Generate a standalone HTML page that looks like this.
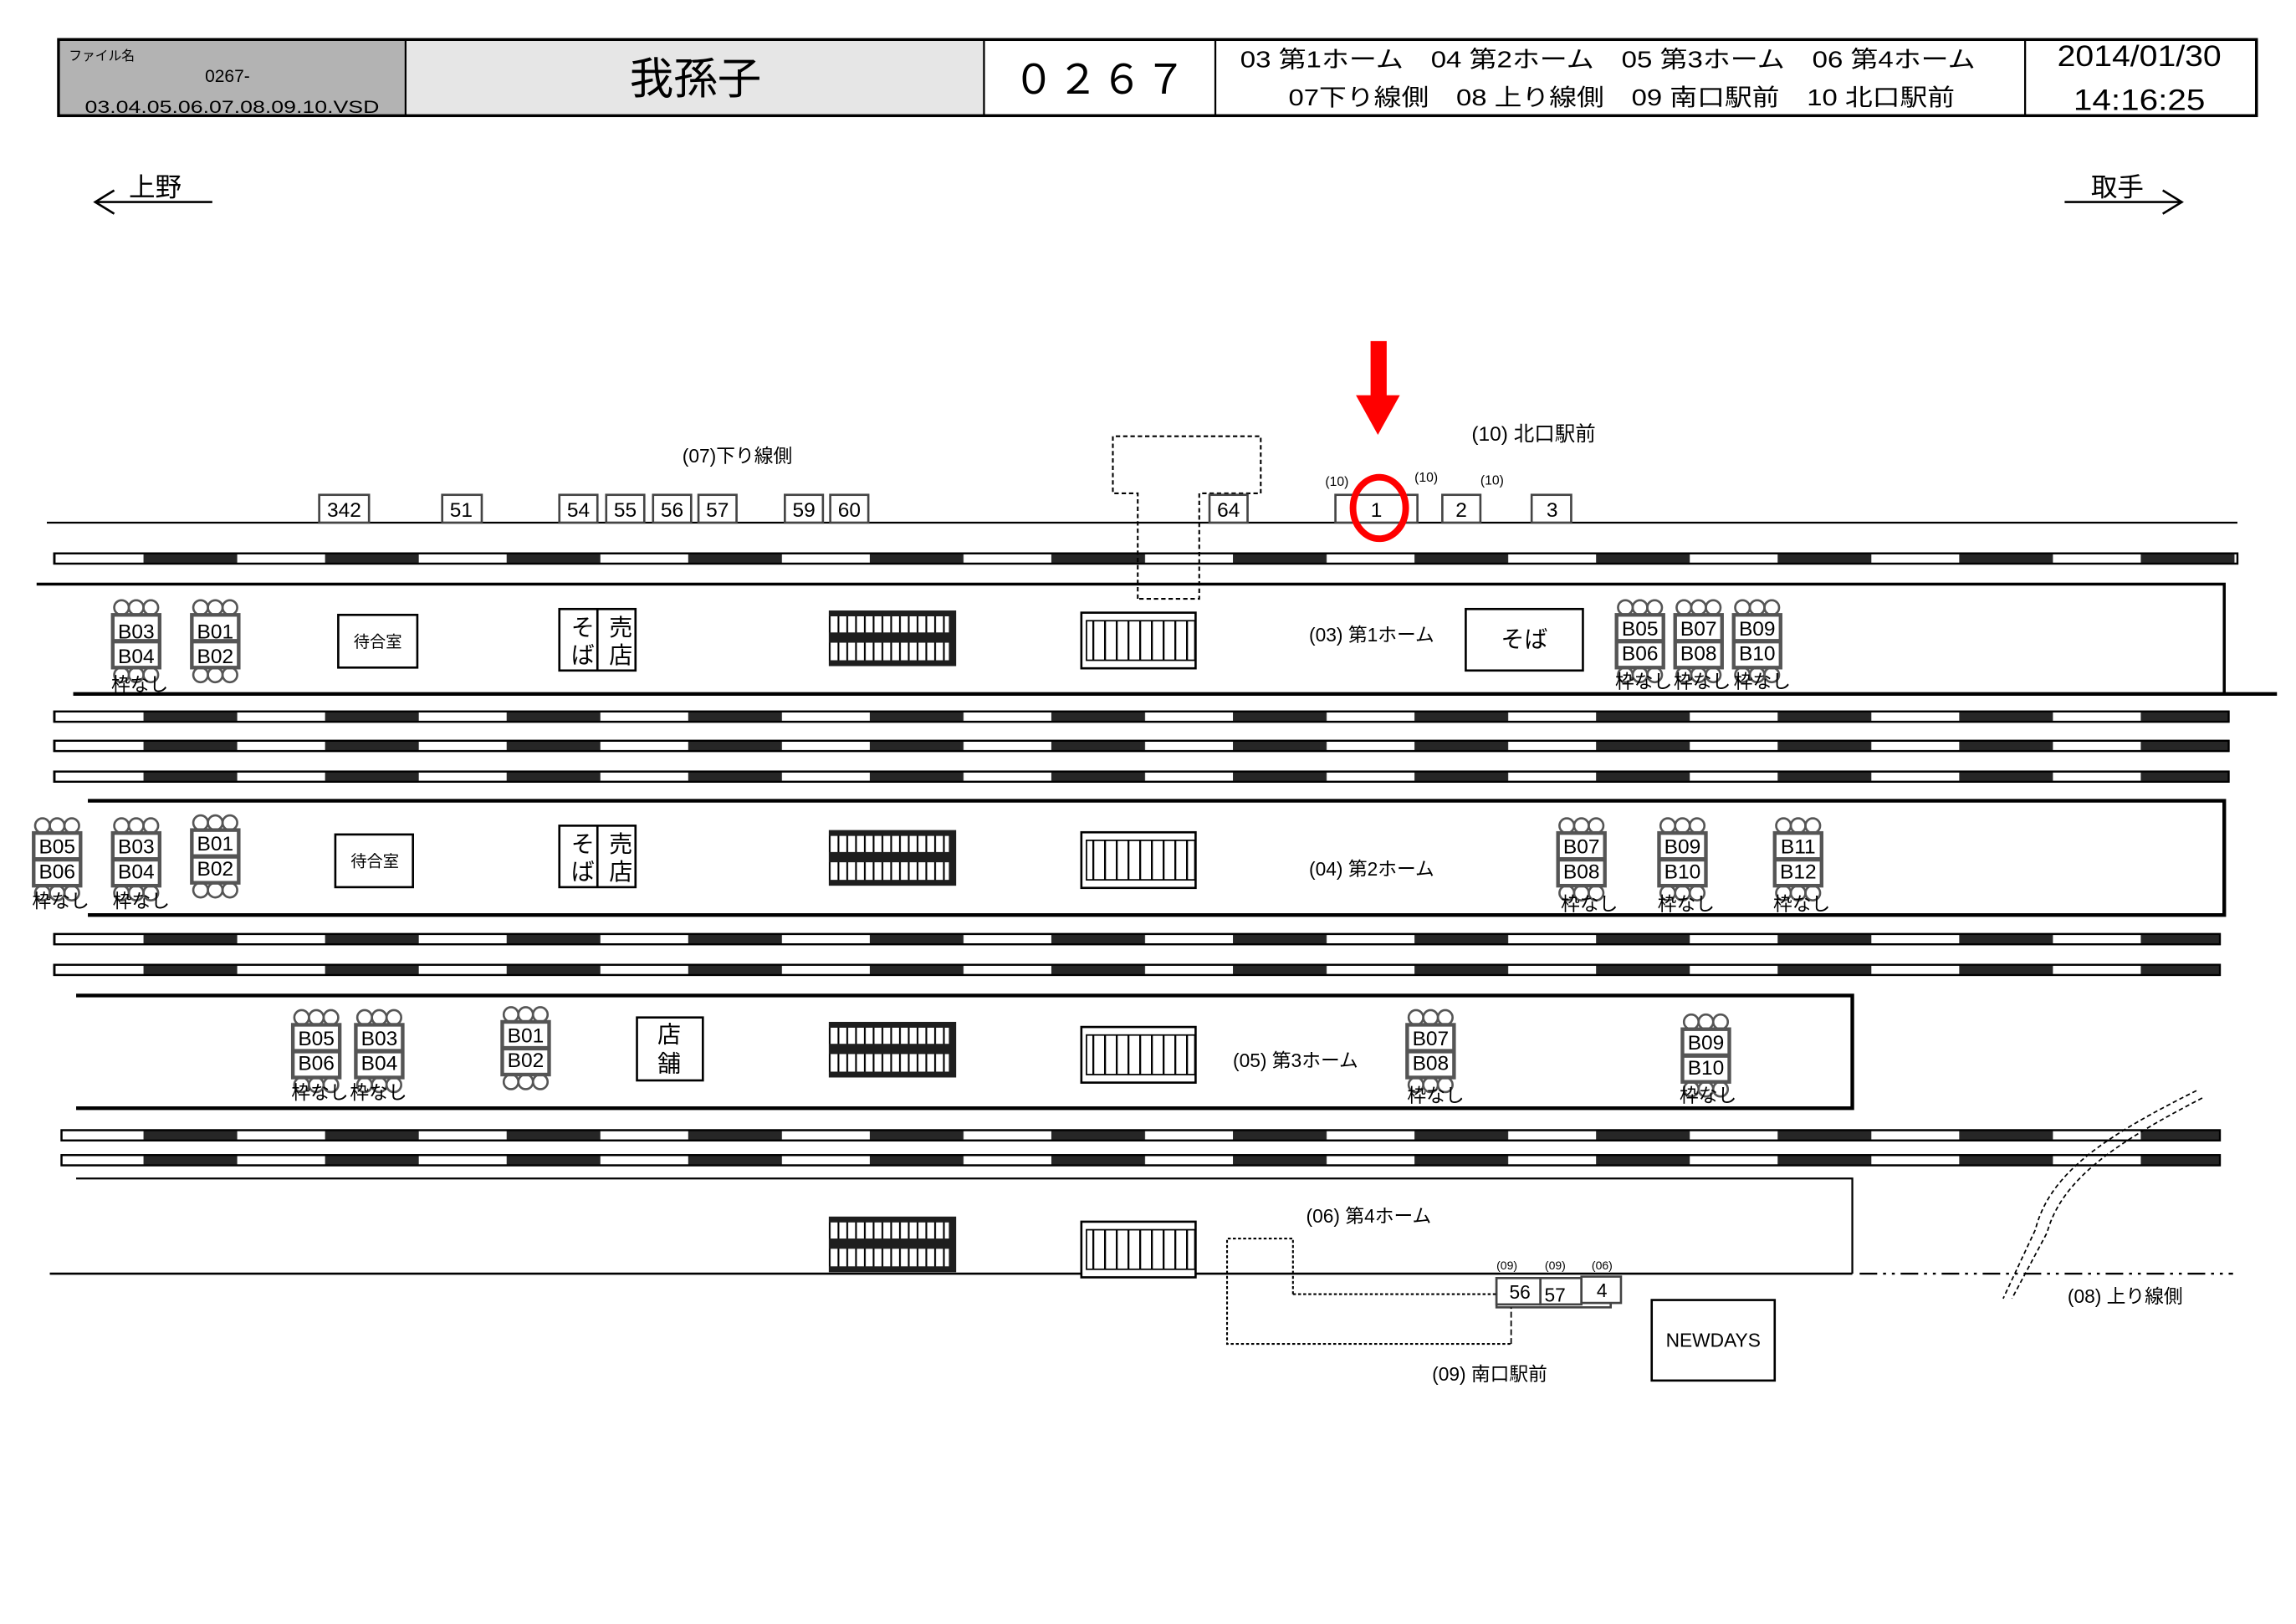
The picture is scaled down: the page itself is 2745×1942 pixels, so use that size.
<!DOCTYPE html>
<html><head><meta charset="utf-8"><style>
html,body{margin:0;padding:0;background:#fff}
svg{display:block}
text{font-family:"Liberation Sans","Noto Sans CJK JP",sans-serif;fill:#000}
</style></head><body>
<svg width="2745" height="1942" viewBox="0 0 1568 1109.3" preserveAspectRatio="none" xmlns="http://www.w3.org/2000/svg">
<defs>
<pattern id="trk" patternUnits="userSpaceOnUse" x="98" y="0" width="124" height="20">
<rect x="0" y="0" width="64" height="20" fill="#262626"/>
</pattern>
<pattern id="vl" patternUnits="userSpaceOnUse" width="6" height="10">
<rect width="6" height="10" fill="#fff"/><rect x="0" width="1.2" height="10" fill="#000"/>
</pattern>
<pattern id="vl2" patternUnits="userSpaceOnUse" width="8" height="10">
<rect width="8" height="10" fill="#fff"/><rect x="0" width="1.3" height="10" fill="#000"/>
</pattern>
<g id="stair">
<rect x="0" y="0" width="87" height="38" fill="#1e1e1e"/>
<rect x="0" y="4" width="82" height="11" fill="url(#vl)"/>
<rect x="0" y="22" width="82" height="12" fill="url(#vl)"/>
</g>
<g id="esc">
<rect x="0.5" y="0.5" width="78" height="38" fill="#fff" stroke="#000" stroke-width="1.5"/>
<rect x="4" y="6" width="74" height="27" fill="url(#vl2)" stroke="#000" stroke-width="1"/>
</g>
<g id="bus" fill="none" stroke="#555" stroke-width="1.5">
<circle cx="6" cy="0" r="5"/><circle cx="16" cy="0" r="5"/><circle cx="26" cy="0" r="5"/>
<rect x="0" y="5" width="32" height="36" fill="#fff" stroke="#555" stroke-width="2.5"/>
<line x1="0" y1="23" x2="32" y2="23" stroke-width="3"/>
<circle cx="6" cy="46" r="5"/><circle cx="16" cy="46" r="5"/><circle cx="26" cy="46" r="5"/>
</g>
</defs>

<!-- header -->
<rect x="40" y="27" width="1501" height="52" fill="#fff" stroke="#000" stroke-width="2"/>
<rect x="41" y="28" width="236" height="50" fill="#b3b3b3"/>
<rect x="278" y="28" width="394" height="50" fill="#e6e6e6"/>
<g stroke="#000" stroke-width="1.3">
<line x1="277" y1="27" x2="277" y2="79"/><line x1="672" y1="27" x2="672" y2="79"/>
<line x1="830" y1="27" x2="830" y2="79"/><line x1="1383" y1="27" x2="1383" y2="79"/>
</g>
<text x="47" y="41" font-size="9">ファイル名</text>
<text x="140" y="56" font-size="12">0267-</text>
<text x="58" y="77" font-size="12" textLength="201" lengthAdjust="spacingAndGlyphs">03.04.05.06.07.08.09.10.VSD</text>
<text x="475" y="64" font-size="30" text-anchor="middle">我孫子</text>
<text x="751" y="64" font-size="28" text-anchor="middle" textLength="118" lengthAdjust="spacing">０２６７</text>
<text x="847" y="46" font-size="16" textLength="502" lengthAdjust="spacingAndGlyphs">03 第1ホーム　04 第2ホーム　05 第3ホーム　06 第4ホーム</text>
<text x="880" y="72" font-size="16" textLength="455" lengthAdjust="spacingAndGlyphs">07下り線側　08 上り線側　09 南口駅前　10 北口駅前</text>
<text x="1461" y="45" font-size="20" text-anchor="middle" textLength="112" lengthAdjust="spacingAndGlyphs">2014/01/30</text>
<text x="1461" y="75" font-size="20" text-anchor="middle" textLength="90" lengthAdjust="spacingAndGlyphs">14:16:25</text>

<!-- direction arrows -->
<g stroke="#000" stroke-width="1.5" fill="none">
<line x1="65" y1="138" x2="145" y2="138"/><polyline points="78,130 65,138 78,146"/>
<line x1="1410" y1="138" x2="1490" y2="138"/><polyline points="1477,130 1490,138 1477,146"/>
</g>
<text x="88" y="134" font-size="18">上野</text>
<text x="1428" y="134" font-size="18">取手</text>

<!-- tracks -->
<g stroke="#000" stroke-width="1.3">
<rect x="37" y="378" width="1491" height="7" fill="#fff"/><rect x="37" y="378" width="1491" height="7" fill="url(#trk)"/>
<rect x="37" y="486" width="1485" height="7" fill="#fff"/><rect x="37" y="486" width="1485" height="7" fill="url(#trk)"/>
<rect x="37" y="506" width="1485" height="7" fill="#fff"/><rect x="37" y="506" width="1485" height="7" fill="url(#trk)"/>
<rect x="37" y="527" width="1485" height="7" fill="#fff"/><rect x="37" y="527" width="1485" height="7" fill="url(#trk)"/>
<rect x="37" y="638" width="1479" height="7" fill="#fff"/><rect x="37" y="638" width="1479" height="7" fill="url(#trk)"/>
<rect x="37" y="659" width="1479" height="7" fill="#fff"/><rect x="37" y="659" width="1479" height="7" fill="url(#trk)"/>
<rect x="42" y="772" width="1474" height="7" fill="#fff"/><rect x="42" y="772" width="1474" height="7" fill="url(#trk)"/>
<rect x="42" y="789" width="1474" height="7" fill="#fff"/><rect x="42" y="789" width="1474" height="7" fill="url(#trk)"/>
</g>

<!-- platform lines -->
<g stroke="#000" fill="none">
<line x1="32" y1="357" x2="1528" y2="357" stroke-width="1.3"/>
<polyline points="25,399 1519,399 1519,474" stroke-width="2"/>
<line x1="50" y1="474" x2="1555" y2="474" stroke-width="2.5"/>
<polyline points="60,547 1519,547 1519,625 60,625" stroke-width="2.5"/>
<polyline points="52,680 1265,680 1265,757 52,757" stroke-width="2.5"/>
<polyline points="52,805 1265,805 1265,870" stroke-width="1.3"/>
<line x1="34" y1="870" x2="1265" y2="870" stroke-width="1.5"/>
<line x1="1270" y1="870" x2="1525" y2="870" stroke-width="1.3" stroke-dasharray="12,4,2,4,2,4"/>
</g>

<!-- overpass dashed -->
<path d="M777,409 V337 H760 V298 H861 V337 H819 V409 Z" fill="none" stroke="#000" stroke-width="1.2" stroke-dasharray="3,2"/>

<!-- stop boxes -->
<g fill="#fff" stroke="#444" stroke-width="1.5">
<rect x="218" y="338" width="34" height="19"/><rect x="302" y="338" width="27" height="19"/>
<rect x="382" y="338" width="26" height="19"/><rect x="414" y="338" width="26" height="19"/>
<rect x="446" y="338" width="26" height="19"/><rect x="477" y="338" width="26" height="19"/>
<rect x="536" y="338" width="26" height="19"/><rect x="567" y="338" width="26" height="19"/>
<rect x="826" y="338" width="26" height="19"/>
<rect x="912" y="338" width="56" height="19"/><rect x="985" y="338" width="26" height="19"/>
<rect x="1046" y="338" width="27" height="19"/>
</g>
<g font-size="14" text-anchor="middle">
<text x="235" y="353">342</text><text x="315" y="353">51</text><text x="395" y="353">54</text><text x="427" y="353">55</text>
<text x="459" y="353">56</text><text x="490" y="353">57</text><text x="549" y="353">59</text><text x="580" y="353">60</text>
<text x="839" y="353">64</text><text x="940" y="353">1</text><text x="998" y="353">2</text><text x="1060" y="353">3</text>
</g>
<g font-size="9"><text x="905" y="332">(10)</text><text x="966" y="329">(10)</text><text x="1011" y="331">(10)</text></g>
<text x="466" y="316" font-size="13">(07)下り線側</text>
<text x="1005" y="301" font-size="14">(10) 北口駅前</text>

<!-- red marker -->
<rect x="936" y="233" width="11" height="38" fill="#f00"/>
<polygon points="926,270 956,270 941,297" fill="#f00"/>
<ellipse cx="942" cy="347" rx="18" ry="21" fill="none" stroke="#f00" stroke-width="4.5"/>

<!-- stairs & escalators -->
<use href="#stair" x="566" y="417"/><use href="#stair" x="566" y="567"/>
<use href="#stair" x="566" y="698"/><use href="#stair" x="566" y="831"/>
<use href="#esc" x="738" y="418"/><use href="#esc" x="738" y="568"/>
<use href="#esc" x="738" y="701"/><use href="#esc" x="738" y="834"/>

<!-- facilities -->
<g fill="#fff" stroke="#000" stroke-width="1.5">
<rect x="231" y="420" width="54" height="36"/><rect x="229" y="570" width="53" height="36"/>
<rect x="382" y="416" width="52" height="42"/><line x1="408" y1="416" x2="408" y2="458"/>
<rect x="382" y="564" width="52" height="42"/><line x1="408" y1="564" x2="408" y2="606"/>
<rect x="435" y="695" width="45" height="43"/>
<rect x="1001" y="416" width="80" height="42"/>
<rect x="1128" y="888" width="84" height="55"/>
</g>
<g font-size="11" text-anchor="middle"><text x="258" y="442">待合室</text><text x="256" y="592">待合室</text></g>
<g font-size="16" text-anchor="middle">
<text x="398" y="434">そ</text><text x="398" y="453">ば</text><text x="424" y="434">売</text><text x="424" y="453">店</text>
<text x="398" y="582">そ</text><text x="398" y="601">ば</text><text x="424" y="582">売</text><text x="424" y="601">店</text>
<text x="457" y="712">店</text><text x="457" y="732">舗</text>
<text x="1041" y="442">そば</text>
</g>
<text x="1170" y="920" font-size="13" text-anchor="middle">NEWDAYS</text>

<!-- bus stop symbols -->
<g font-size="14" text-anchor="middle">
<use href="#bus" x="77" y="415"/><text x="93" y="436">B03</text><text x="93" y="453">B04</text>
<use href="#bus" x="131" y="415"/><text x="147" y="436">B01</text><text x="147" y="453">B02</text>
<use href="#bus" x="1104" y="415"/><text x="1120" y="434">B05</text><text x="1120" y="451">B06</text>
<use href="#bus" x="1144" y="415"/><text x="1160" y="434">B07</text><text x="1160" y="451">B08</text>
<use href="#bus" x="1184" y="415"/><text x="1200" y="434">B09</text><text x="1200" y="451">B10</text>
<use href="#bus" x="23" y="564"/><text x="39" y="583">B05</text><text x="39" y="600">B06</text>
<use href="#bus" x="77" y="564"/><text x="93" y="583">B03</text><text x="93" y="600">B04</text>
<use href="#bus" x="131" y="562"/><text x="147" y="581">B01</text><text x="147" y="598">B02</text>
<use href="#bus" x="1064" y="564"/><text x="1080" y="583">B07</text><text x="1080" y="600">B08</text>
<use href="#bus" x="1133" y="564"/><text x="1149" y="583">B09</text><text x="1149" y="600">B10</text>
<use href="#bus" x="1212" y="564"/><text x="1228" y="583">B11</text><text x="1228" y="600">B12</text>
<use href="#bus" x="200" y="695"/><text x="216" y="714">B05</text><text x="216" y="731">B06</text>
<use href="#bus" x="243" y="695"/><text x="259" y="714">B03</text><text x="259" y="731">B04</text>
<use href="#bus" x="343" y="693"/><text x="359" y="712">B01</text><text x="359" y="729">B02</text>
<use href="#bus" x="961" y="695"/><text x="977" y="714">B07</text><text x="977" y="731">B08</text>
<use href="#bus" x="1149" y="698"/><text x="1165" y="717">B09</text><text x="1165" y="734">B10</text>
</g>
<g font-size="13">
<text x="76" y="472">枠なし</text>
<text x="1103" y="470">枠なし</text><text x="1143" y="470">枠なし</text><text x="1184" y="470">枠なし</text>
<text x="22" y="620">枠なし</text><text x="77" y="620">枠なし</text>
<text x="1066" y="622">枠なし</text><text x="1132" y="622">枠なし</text><text x="1211" y="622">枠なし</text>
<text x="199" y="751">枠なし</text><text x="239" y="751">枠なし</text>
<text x="961" y="753">枠なし</text><text x="1147" y="753">枠なし</text>
</g>

<!-- platform labels -->
<g font-size="13">
<text x="894" y="438">(03) 第1ホーム</text>
<text x="894" y="598">(04) 第2ホーム</text>
<text x="842" y="729">(05) 第3ホーム</text>
<text x="892" y="835">(06) 第4ホーム</text>
<text x="978" y="943">(09) 南口駅前</text>
<text x="1412" y="890">(08) 上り線側</text>
</g>

<!-- south exit stops -->
<g fill="#fff" stroke="#444" stroke-width="1.5">
<rect x="1022" y="873" width="78" height="20"/>
<rect x="1022" y="873" width="30" height="18"/><rect x="1052" y="873" width="28" height="18"/>
<rect x="1080" y="872" width="27" height="18"/>
</g>
<g font-size="13" text-anchor="middle"><text x="1038" y="887">56</text><text x="1062" y="889">57</text><text x="1094" y="886">4</text></g>
<g font-size="8"><text x="1022" y="867">(09)</text><text x="1055" y="867">(09)</text><text x="1087" y="867">(06)</text></g>
<g fill="none" stroke="#000" stroke-width="1.2" stroke-dasharray="2,1.5">
<path d="M883,884 V846 H838 V918 H1032"/><path d="M883,884 H1022"/>
</g>
<line x1="1032" y1="918" x2="1032" y2="893" stroke="#000" stroke-width="1" stroke-dasharray="4,2"/>

<!-- curved crossover -->
<g fill="none" stroke="#000" stroke-width="1" stroke-dasharray="3,2">
<path d="M1500,745 C1440,775 1400,800 1390,840 L1368,887"/>
<path d="M1504,750 C1446,780 1408,805 1398,842 L1374,887"/>
</g>
</svg>
</body></html>
